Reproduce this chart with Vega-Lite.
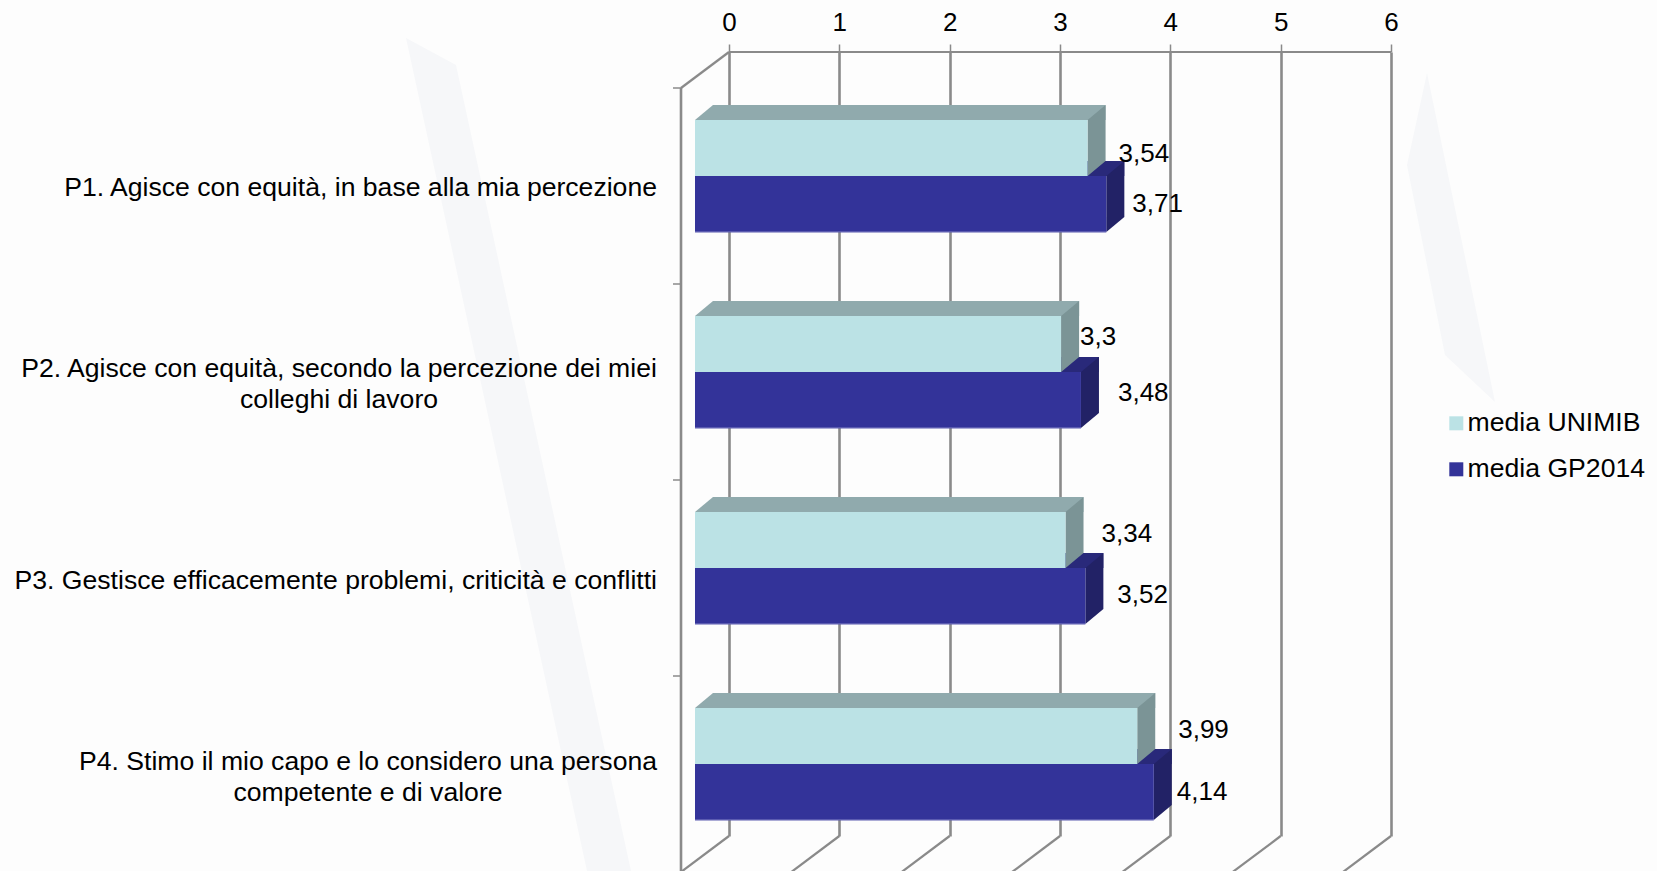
{
"$schema":"https://vega.github.io/schema/vega-lite/v6.json",
"width":662,"height":784,
"padding":{"left":729,"top":52,"right":266,"bottom":35},
"autosize":"none",
"background":"#fdfdfd",
"view":{"stroke":null},
"datasets":{
"bars":[
{"cat":"P1","series":"media UNIMIB","value":3.54,"label":"3,54"},
{"cat":"P1","series":"media GP2014","value":3.71,"label":"3,71"},
{"cat":"P2","series":"media UNIMIB","value":3.3,"label":"3,3"},
{"cat":"P2","series":"media GP2014","value":3.48,"label":"3,48"},
{"cat":"P3","series":"media UNIMIB","value":3.34,"label":"3,34"},
{"cat":"P3","series":"media GP2014","value":3.52,"label":"3,52"},
{"cat":"P4","series":"media UNIMIB","value":3.99,"label":"3,99"},
{"cat":"P4","series":"media GP2014","value":4.14,"label":"4,14"}],
"cats":[
{"cat":"P1","name":"P1. Agisce con equità, in base alla mia percezione"},
{"cat":"P2","name":"P2. Agisce con equità, secondo la percezione dei miei\ncolleghi di lavoro"},
{"cat":"P3","name":"P3. Gestisce efficacemente problemi, criticità e conflitti"},
{"cat":"P4","name":"P4. Stimo il mio capo e lo considero una persona\ncompetente e di valore"}],
"ticks":[{"t":0},{"t":1},{"t":2},{"t":3},{"t":4},{"t":5},{"t":6}]
},
"data":{"name":"bars"},
"config":{"font":"Liberation Sans","text":{"font":"Liberation Sans","fontSize":26,"color":"#000"}},
"encoding":{
"y":{"field":"cat","type":"nominal","axis":null,"scale":{"domain":["P1","P2","P3","P4"],"paddingInner":0.43,"paddingOuter":0.215}}
},
"layer":[
{"data":{"values":[{"t":0}]},"mark":{"type":"point","shape":"M-0.323,-0.112L-0.273,-0.085L-0.098,0.721L-0.142,0.721ZM0.698,-0.077L0.678,0.015L0.716,0.205L0.766,0.252Z","size":4000000,"filled":true,"opacity":1,"color":"#f6f7f9"},
 "encoding":{"x":{"field":"t","type":"quantitative"},"y":{"datum":"P1"}}},
{"data":{"name":"ticks"},"mark":{"type":"rule","opacity":0},
 "encoding":{"y":{"datum":"P1"},"x":{"field":"t","type":"quantitative","scale":{"domain":[0,6],"nice":false},
  "axis":{"orient":"top","values":[0,1,2,3,4,5,6],"title":null,"domain":false,"grid":true,"gridColor":"#8a8a8a","gridWidth":2.6,"tickColor":"#8a8a8a","tickWidth":1.5,"tickSize":8,"labelFontSize":26,"labelColor":"#000","labelPadding":9,"labelFont":"Liberation Sans","format":"d","labelFlush":false}}}},
{"data":{"name":"ticks"},"mark":{"type":"point","shape":"M1,-0.75L-1,0.75","size":2304,"filled":false,"stroke":"#8a8a8a","strokeWidth":2.2,"xOffset":-24,"yOffset":116,"opacity":1},
 "encoding":{"x":{"field":"t","type":"quantitative"},"y":{"datum":"P4"}}},
{"data":{"values":[{"t":0}]},"mark":{"type":"point","shape":"M1,-0.75L-1,0.75","size":2304,"filled":false,"stroke":"#8a8a8a","strokeWidth":2.2,"xOffset":-24,"yOffset":-80,"opacity":1},
 "encoding":{"x":{"field":"t","type":"quantitative"},"y":{"datum":"P1"}}},
{"data":{"values":[{"t":0,"e":6}]},"mark":{"type":"rule","color":"#8a8a8a","strokeWidth":2,"yOffset":-98},
 "encoding":{"x":{"field":"t","type":"quantitative"},"x2":{"field":"e"},"y":{"datum":"P1"}}},
{"data":{"values":[{"t":0}]},"mark":{"type":"point","shape":"M0,-1L0,1","size":614656,"filled":false,"stroke":"#8a8a8a","strokeWidth":2.6,"xOffset":-48,"yOffset":-62,"opacity":1},
 "encoding":{"x":{"field":"t","type":"quantitative"},"y":{"datum":"P3"}}},
{"data":{"name":"cats"},"mark":{"type":"point","shape":"M-1,0L1,0","size":64,"filled":false,"stroke":"#8a8a8a","strokeWidth":1.5,"xOffset":-52,"yOffset":-62,"opacity":1},
 "encoding":{"x":{"datum":0},"y":{"field":"cat","type":"nominal"}}},

{"transform":[{"filter":"datum.series==='media GP2014'"}],"mark":{"type":"rule","strokeWidth":15,"color":"#29297A","xOffset":-14,"x2Offset":-16,"yOffset":18.5},
 "encoding":{"x":{"field":"value","type":"quantitative"},"x2":{"datum":0}}},
{"transform":[{"filter":"datum.series==='media GP2014'"}],"mark":{"type":"point","shape":"M-0.2535,-0.5775L0.2535,-1L0.2535,0.5775L-0.2535,1Z","size":5041,"filled":true,"opacity":1,"color":"#222266","xOffset":-23,"yOffset":46.5},
 "encoding":{"x":{"field":"value","type":"quantitative"}}},
{"transform":[{"filter":"datum.series==='media GP2014'"}],"mark":{"type":"rule","strokeWidth":2,"color":"#5B5BB0","xOffset":-32,"x2Offset":-34,"yOffset":81.5},
 "encoding":{"x":{"field":"value","type":"quantitative"},"x2":{"datum":0}}},
{"transform":[{"filter":"datum.series==='media GP2014'"}],"mark":{"type":"rule","strokeWidth":55,"xOffset":-32,"x2Offset":-34,"yOffset":53.5},
 "encoding":{"x":{"field":"value","type":"quantitative"},"x2":{"datum":0},
  "color":{"field":"series","type":"nominal","scale":{"domain":["media UNIMIB","media GP2014"],"range":["#BBE2E5","#333399"]},
   "legend":{"orient":"none","legendX":714,"legendY":358,"title":null,"symbolType":"square","symbolSize":4,"labelFontSize":26.6,"labelFont":"Liberation Sans","labelColor":"#000","labelLimit":400,"rowPadding":-5,"labelOffset":-2,"symbolStrokeWidth":12,"padding":0}}}},

{"transform":[{"filter":"datum.series==='media UNIMIB'"}],"mark":{"type":"rule","strokeWidth":15,"color":"#90AAAD","xOffset":-14,"x2Offset":-16,"yOffset":-37.5},
 "encoding":{"x":{"field":"value","type":"quantitative"},"x2":{"datum":0}}},
{"transform":[{"filter":"datum.series==='media UNIMIB'"}],"mark":{"type":"point","shape":"M-1,0.833L1,-0.833L1,0.833Z","size":324,"filled":true,"opacity":1,"color":"#90AAAD","xOffset":-25,"yOffset":-37.5},
 "encoding":{"x":{"datum":0}}},
{"transform":[{"filter":"datum.series==='media UNIMIB'"}],"mark":{"type":"point","shape":"M-0.2535,-0.5775L0.2535,-1L0.2535,0.5775L-0.2535,1Z","size":5041,"filled":true,"opacity":1,"color":"#7B9496","xOffset":-23,"yOffset":-9.5},
 "encoding":{"x":{"field":"value","type":"quantitative"}}},
{"transform":[{"filter":"datum.series==='media UNIMIB'"}],"mark":{"type":"rule","strokeWidth":56,"xOffset":-32,"x2Offset":-34,"yOffset":-2},
 "encoding":{"x":{"field":"value","type":"quantitative"},"x2":{"datum":0},"color":{"field":"series","type":"nominal"}}},

{"data":{"name":"cats"},"transform":[{"filter":"datum.cat==='P1'"}],"mark":{"type":"text","fontSize":26.6,"align":"right","baseline":"middle","dx":-72,"dy":38},
 "encoding":{"x":{"datum":0},"text":{"field":"name"}}},
{"data":{"name":"cats"},"transform":[{"filter":"datum.cat==='P3'"}],"mark":{"type":"text","fontSize":26.6,"align":"right","baseline":"middle","dx":-72,"dy":39},
 "encoding":{"x":{"datum":0},"text":{"field":"name"}}},
{"data":{"name":"cats"},"transform":[{"filter":"datum.cat==='P2'"}],"mark":{"type":"text","fontSize":26.6,"align":"center","baseline":"middle","dx":-390,"dy":23,"lineBreak":"\n","lineHeight":31},
 "encoding":{"x":{"datum":0},"text":{"field":"name"}}},
{"data":{"name":"cats"},"transform":[{"filter":"datum.cat==='P4'"}],"mark":{"type":"text","fontSize":26.6,"align":"center","baseline":"middle","dx":-361,"dy":24,"lineBreak":"\n","lineHeight":31},
 "encoding":{"x":{"datum":0},"text":{"field":"name"}}},

{"transform":[{"filter":"datum.label==='3,54'"}],"mark":{"type":"text","align":"left","baseline":"middle","dx":-1,"dy":4},"encoding":{"x":{"field":"value","type":"quantitative"},"text":{"field":"label"}}},
{"transform":[{"filter":"datum.label==='3,71'"}],"mark":{"type":"text","align":"left","baseline":"middle","dx":-6,"dy":54},"encoding":{"x":{"field":"value","type":"quantitative"},"text":{"field":"label"}}},
{"transform":[{"filter":"datum.label==='3,3'"}],"mark":{"type":"text","align":"left","baseline":"middle","dx":-13,"dy":-9},"encoding":{"x":{"field":"value","type":"quantitative"},"text":{"field":"label"}}},
{"transform":[{"filter":"datum.label==='3,48'"}],"mark":{"type":"text","align":"left","baseline":"middle","dx":5,"dy":47},"encoding":{"x":{"field":"value","type":"quantitative"},"text":{"field":"label"}}},
{"transform":[{"filter":"datum.label==='3,34'"}],"mark":{"type":"text","align":"left","baseline":"middle","dx":4,"dy":-8},"encoding":{"x":{"field":"value","type":"quantitative"},"text":{"field":"label"}}},
{"transform":[{"filter":"datum.label==='3,52'"}],"mark":{"type":"text","align":"left","baseline":"middle","dx":0,"dy":53},"encoding":{"x":{"field":"value","type":"quantitative"},"text":{"field":"label"}}},
{"transform":[{"filter":"datum.label==='3,99'"}],"mark":{"type":"text","align":"left","baseline":"middle","dx":9,"dy":-8},"encoding":{"x":{"field":"value","type":"quantitative"},"text":{"field":"label"}}},
{"transform":[{"filter":"datum.label==='4,14'"}],"mark":{"type":"text","align":"left","baseline":"middle","dx":-9,"dy":54},"encoding":{"x":{"field":"value","type":"quantitative"},"text":{"field":"label"}}}
]
}
